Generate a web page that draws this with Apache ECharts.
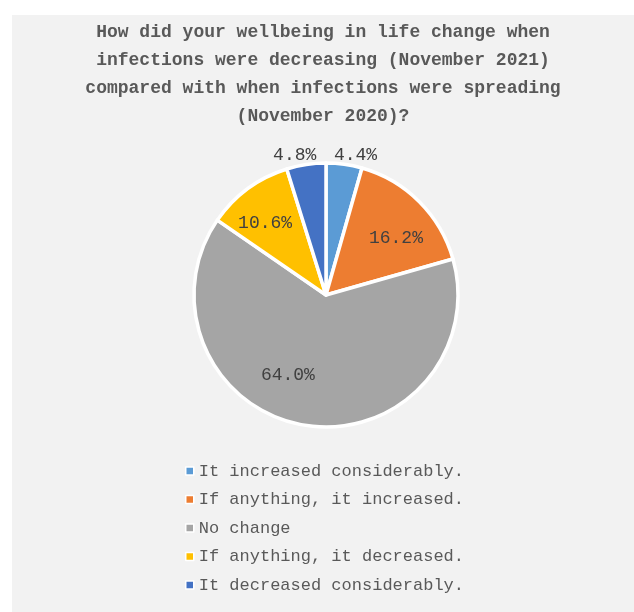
<!DOCTYPE html>
<html>
<head>
<meta charset="utf-8">
<script src="https://cdn.jsdelivr.net/npm/echarts@6/dist/echarts.min.js"></script>
<style>
  html, body { margin: 0; padding: 0; background: #ffffff; }
  #chart { position: absolute; left: 12px; top: 15px; width: 622px; height: 597px; background: #f2f2f2; }
</style>
</head>
<body>
<div id="chart"></div>
<script>
// Survey answers and their shares (%)
const categories = [
  'It increased considerably.',
  'If anything, it increased.',
  'No change',
  'If anything, it decreased.',
  'It decreased considerably.'
];
const shares = [4.4, 16.2, 64.0, 10.6, 4.8];
const sliceColors = ['#5b9bd5', '#ed7d31', '#a5a5a5', '#ffc000', '#4472c4'];

const titleText = 'How did your wellbeing in life change when\ninfections were decreasing (November 2021)\ncompared with when infections were spreading\n(November 2020)?';

// Pie geometry (pixels inside the chart box)
const cx = 314, cy = 280, outerR = 132;
// Label placement: distance from centre and angular nudge from the slice middle
const labelRadius = [143, 90, 89, 94, 143];
const labelNudge = [4, 6, 16, -4, -4];

const total = shares.reduce((a, b) => a + b, 0);
const midAngles = [];
let acc = 0;
shares.forEach(v => { midAngles.push((acc + v / 2) / total * 360); acc += v; });

const fontFamily = '"Liberation Mono", "DejaVu Sans Mono", monospace';

const chart = echarts.init(document.getElementById('chart'), null, { renderer: 'canvas' });
chart.setOption({
  backgroundColor: '#f2f2f2',
  animation: false,
  title: {
    text: titleText,
    left: 'center',
    top: -2,
    padding: [5, 0, 5, 8],
    textStyle: {
      fontFamily: fontFamily,
      fontSize: 18,
      fontWeight: 'bold',
      color: '#595959',
      lineHeight: 28
    }
  },
  legend: {
    orient: 'vertical',
    left: 168,
    top: 441,
    itemWidth: 8,
    itemHeight: 8,
    itemGap: 8.5,
    icon: 'rect',
    itemStyle: { borderColor: '#ffffff', borderWidth: 1.5 },
    textStyle: { fontFamily: fontFamily, fontSize: 17, color: '#595959', lineHeight: 20 },
    data: categories
  },
  series: [{
    type: 'pie',
    center: [cx, cy],
    radius: [0, outerR],
    startAngle: 90,
    clockwise: true,
    avoidLabelOverlap: false,
    itemStyle: { borderColor: '#ffffff', borderWidth: 3.5 },
    label: {
      show: true,
      position: 'inside',
      formatter: p => p.value.toFixed(1) + '%',
      fontFamily: fontFamily,
      fontSize: 18,
      color: '#404040'
    },
    labelLine: { show: false },
    emphasis: { disabled: true },
    labelLayout: function (params) {
      const i = params.dataIndex;
      const a = (midAngles[i] + labelNudge[i]) * Math.PI / 180;
      return {
        x: cx + labelRadius[i] * Math.sin(a),
        y: cy - labelRadius[i] * Math.cos(a),
        align: 'center',
        verticalAlign: 'middle'
      };
    },
    data: categories.map((name, i) => ({
      name: name,
      value: shares[i],
      itemStyle: { color: sliceColors[i] }
    }))
  }]
});
</script>
</body>
</html>
